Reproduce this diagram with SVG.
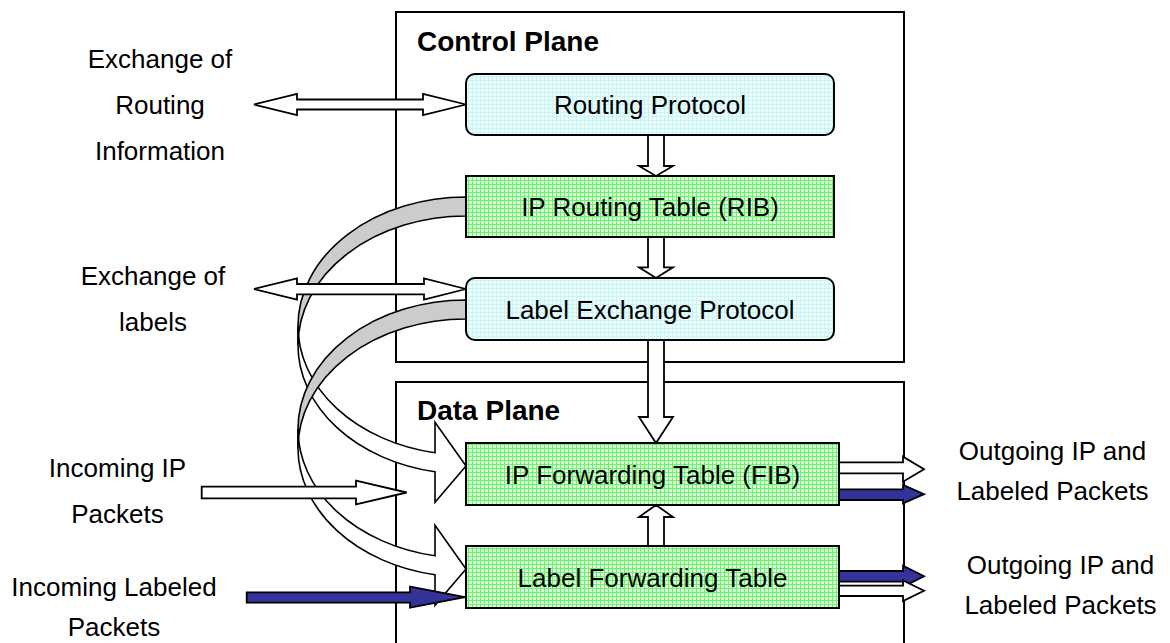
<svg xmlns="http://www.w3.org/2000/svg" width="1170" height="643" viewBox="0 0 1170 643">
  <style>
    text { font-family: "Liberation Sans", Arial, sans-serif; font-size: 26px; fill: #000; }
    .title { font-weight: bold; font-size: 28px; }
    .lbl { text-anchor: middle; }
    .frame { fill: none; stroke: #000; stroke-width: 2; }
    .box { stroke: #000; stroke-width: 2; }
    .green { fill: url(#gridGreen); }
    .cyan { fill: url(#gridCyan); }
    .blk { stroke: #000; stroke-width: 1.8; stroke-linejoin: miter; }
    .white { fill: #fff; }
    .navy { fill: #333399; }
    .back { fill: #cccccc; stroke: #000; stroke-width: 1.6; }
    .front { fill: #fff; stroke: #000; stroke-width: 1.6; }
  </style>
  <defs>
    <pattern id="gridGreen" width="4" height="4" patternUnits="userSpaceOnUse">
      <rect width="4" height="4" fill="#d9ffd9"/>
      <rect width="4" height="1" fill="#70f070"/>
      <rect width="1" height="4" fill="#70f070"/>
    </pattern>
    <pattern id="gridCyan" width="4" height="4" patternUnits="userSpaceOnUse">
      <rect width="4" height="4" fill="#eaffff"/>
      <rect width="4" height="1" fill="#cdf2f2"/>
      <rect width="1" height="4" fill="#cdf2f2"/>
    </pattern>
    <!-- twisted curved block arrow: shaded back half, white front half with head -->
    <g id="curvedArrow">
      <path class="back" d="M466,197 A168 129 0 0 0 298,326 L298,345 A168 129 0 0 1 466,216 Z"/>
      <path class="front" d="M298,326 A168 129 0 0 0 435,452.8 L435,422.3 L466,466 L435,502.3 L435,471.8 A168 129 0 0 1 298,345 Z"/>
    </g>
  </defs>

  <rect width="1170" height="643" fill="#fff"/>

  <!-- plane frames -->
  <g id="control-plane">
    <rect class="frame" x="396" y="12" width="508" height="350"/>
    <text class="title" x="417" y="51">Control Plane</text>
  </g>
  <g id="data-plane">
    <rect class="frame" x="396" y="382" width="508" height="300"/>
    <text class="title" x="417" y="420">Data Plane</text>
  </g>

  <!-- connectors -->
  <g id="connectors">
    <use href="#curvedArrow"/>
    <use href="#curvedArrow" transform="translate(0,103)"/>

    <!-- exchange of routing information -->
    <polygon class="blk white" points="254,104.5 297,94 297,99.5 423,99.5 423,94 466,104.5 423,115 423,109.5 297,109.5 297,115"/>
    <!-- exchange of labels -->
    <polygon class="blk white" points="254,289 297,278.5 297,284 424,284 424,278.5 466,289 424,299.5 424,294.3 297,294.3 297,299.5"/>

    <!-- vertical flows between tables -->
    <polygon class="blk white" points="648,135 648,166 639,166 656,176 673,166 664,166 664,135"/>
    <polygon class="blk white" points="648,237 648,267.3 639,267.3 656,278 673,267.3 664,267.3 664,237"/>
    <polygon class="blk white" points="648,340 648,417 639,417 656,443 673,417 664,417 664,340"/>
    <polygon class="blk white" points="648,546 648,517 639,517 656,505 673,517 664,517 664,546"/>

    <!-- incoming packets -->
    <polygon class="blk white" points="201.7,486.7 356,486.7 356,480.7 406.7,492.5 356,504.3 356,498.3 201.7,498.3"/>
    <polygon class="blk navy" points="246.7,592.3 410,592.3 410,586.7 465,597.2 410,607.7 410,602.7 246.7,602.7"/>

    <!-- outgoing packets from FIB -->
    <polygon class="blk white" points="839,462.3 903,462.3 903,456.7 924,469.2 903,481.7 903,473.3 839,473.3"/>
    <polygon class="blk navy" points="839,489.3 903,489.3 903,485 924,494.2 903,503.3 903,500 839,500"/>
    <!-- outgoing packets from label forwarding table -->
    <polygon class="blk navy" points="839,571 903,571 903,565.7 924,576.2 903,586.7 903,581.7 839,581.7"/>
    <polygon class="blk white" points="839,585.7 903,585.7 903,580.5 924,590.8 903,601 903,596 839,596"/>

    <!-- connector captions -->
    <text class="lbl" x="160" y="68">Exchange of</text>
    <text class="lbl" x="160" y="114">Routing</text>
    <text class="lbl" x="160" y="160">Information</text>
    <text class="lbl" x="153" y="284.5">Exchange of</text>
    <text class="lbl" x="153" y="331">labels</text>
    <text class="lbl" x="117.5" y="477">Incoming IP</text>
    <text class="lbl" x="117.5" y="523">Packets</text>
    <text class="lbl" x="114" y="596">Incoming Labeled</text>
    <text class="lbl" x="114" y="636">Packets</text>
    <text class="lbl" x="1052.5" y="460">Outgoing IP and</text>
    <text class="lbl" x="1052.5" y="499.5">Labeled Packets</text>
    <text class="lbl" x="1060.5" y="573.5">Outgoing IP and</text>
    <text class="lbl" x="1060.5" y="613.5">Labeled Packets</text>
  </g>

  <!-- nodes -->
  <g id="routing-protocol">
    <rect class="box cyan" x="466" y="74" width="368" height="61" rx="9"/>
    <text class="lbl" x="650" y="114">Routing Protocol</text>
  </g>
  <g id="ip-routing-table">
    <rect class="box green" x="466" y="176" width="368" height="61"/>
    <text class="lbl" x="650" y="215.5">IP Routing Table (RIB)</text>
  </g>
  <g id="label-exchange-protocol">
    <rect class="box cyan" x="466" y="278" width="368" height="62" rx="9"/>
    <text class="lbl" x="650" y="318.5">Label Exchange Protocol</text>
  </g>
  <g id="ip-forwarding-table">
    <rect class="box green" x="466" y="443" width="373" height="62"/>
    <text class="lbl" x="652.5" y="483.5">IP Forwarding Table (FIB)</text>
  </g>
  <g id="label-forwarding-table">
    <rect class="box green" x="466" y="546" width="373" height="62"/>
    <text class="lbl" x="652.5" y="586.5">Label Forwarding Table</text>
  </g>
</svg>
